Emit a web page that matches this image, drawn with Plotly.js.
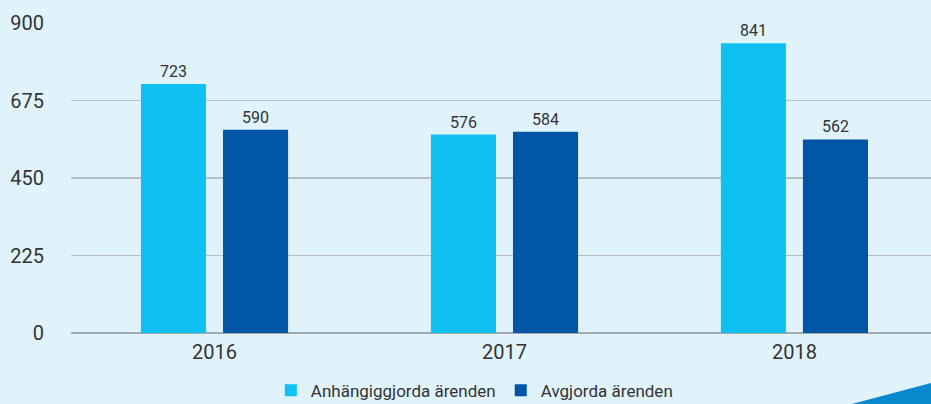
<!DOCTYPE html>
<html>
<head>
<meta charset="utf-8">
<script src="https://cdn.plot.ly/plotly-3.0.1.min.js"></script>
<style>
html,body{margin:0;padding:0;background:#e0f3fb;}
#chart{width:931px;height:404px;}
</style>
</head>
<body>
<div id="chart"></div>
<script>
var years = ['2016', '2017', '2018'];
var anhangiggjorda = [723, 576, 841];
var avgjorda = [590, 584, 562];
var seriesNames = ['Anhängiggjorda ärenden', 'Avgjorda ärenden'];
var yTicks = [0, 225, 450, 675, 900];

var font = 'Roboto, "Open Sans", sans-serif';

var traces = [
  {
    type: 'bar', name: seriesNames[0], x: years, y: anhangiggjorda,
    marker: {color: '#0fc0f2'},
    text: anhangiggjorda.map(String), textposition: 'outside',
    textfont: {family: font, size: 16, color: '#333333'}, cliponaxis: false
  },
  {
    type: 'bar', name: seriesNames[1], x: years, y: avgjorda,
    marker: {color: '#0055a5'},
    text: avgjorda.map(String), textposition: 'outside',
    textfont: {family: font, size: 16, color: '#333333'}, cliponaxis: false
  }
];

var layout = {
  width: 931, height: 404,
  margin: {l: 71, r: 0, t: 23, b: 71, autoexpand: false},
  paper_bgcolor: '#e0f3fb', plot_bgcolor: '#e0f3fb',
  font: {family: font, color: '#333333'},
  barmode: 'group', bargap: 0.434, bargroupgap: 0.207,
  showlegend: true,
  legend: {orientation: 'h', x: 0.469, xanchor: 'center', y: -0.128, yanchor: 'top',
           itemwidth: 30, font: {family: font, size: 17, color: '#333333'}, bgcolor: 'rgba(0,0,0,0)'},
  xaxis: {type: 'category', range: [-0.495, 2.471], showgrid: false, zeroline: false,
          showline: false, ticks: '', ticklabelstandoff: 5,
          tickfont: {family: font, size: 20, color: '#333333'}},
  yaxis: {range: [0, 900], tickvals: yTicks, ticktext: yTicks.map(String),
          showgrid: true, gridcolor: '#b5bdc3', gridwidth: 1.3,
          zeroline: true, zerolinecolor: '#a3abb0', zerolinewidth: 1.5,
          showline: false, ticks: '', ticklabelstandoff: 26,
          tickfont: {family: font, size: 20, color: '#333333'}},
  shapes: [{type: 'path', xref: 'paper', yref: 'paper',
            path: 'M 0.908 -0.229 L 1 -0.161 L 1 -0.229 Z',
            fillcolor: '#0a88cd', line: {width: 0}, layer: 'above'}]
};

Plotly.newPlot('chart', traces, layout, {displayModeBar: false, staticPlot: true});
</script>
</body>
</html>
